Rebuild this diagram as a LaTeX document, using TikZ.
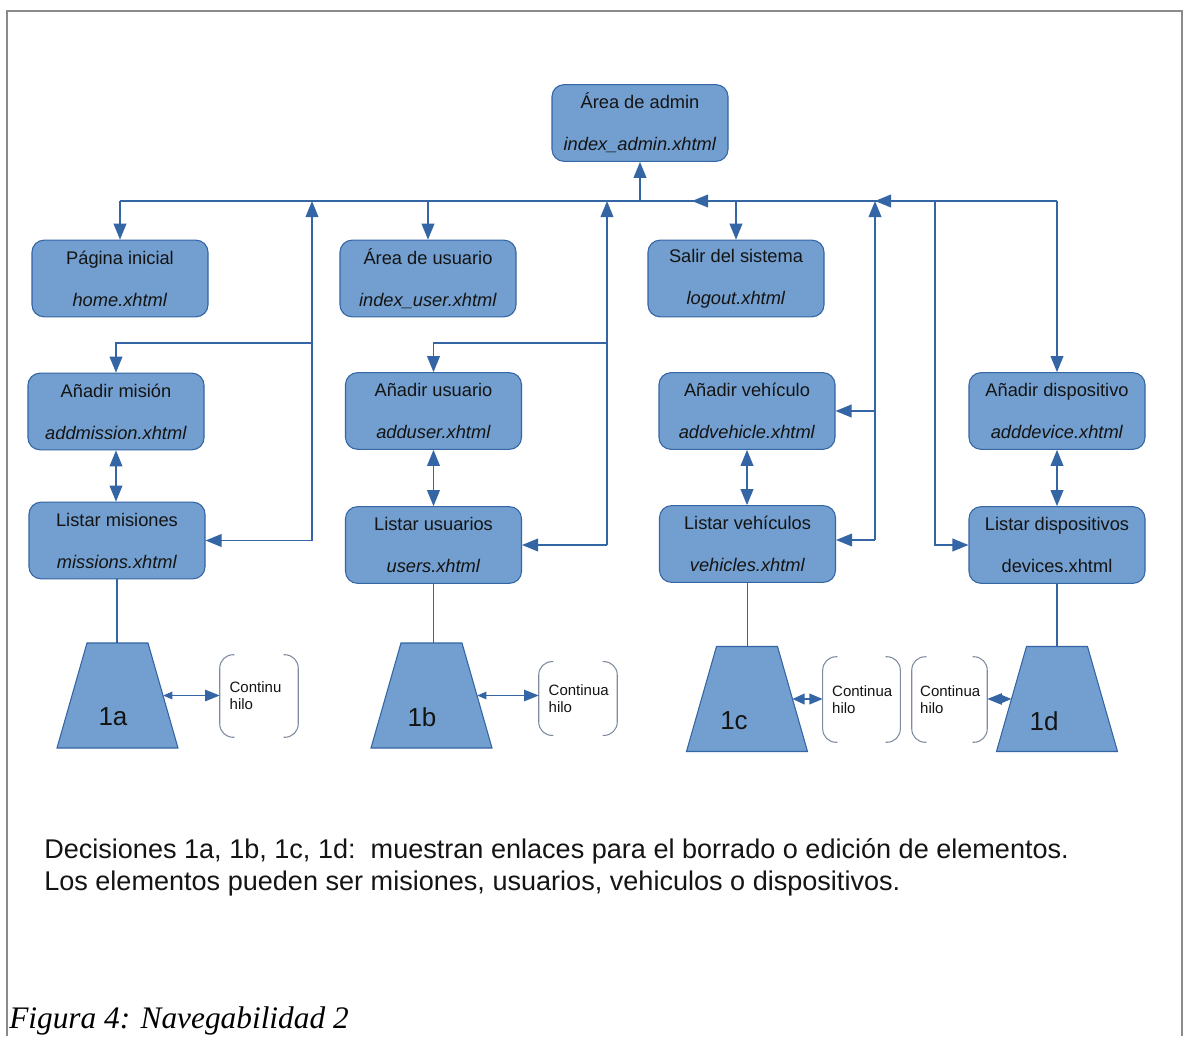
\documentclass[tikz,border=0pt]{standalone}
\usepackage{fontspec}
\setmainfont{Liberation Sans}
\newfontfamily\capfont{Liberation Serif}
\usetikzlibrary{arrows.meta,calc}

\definecolor{boxfill}{HTML}{729FCF}
\definecolor{boxline}{HTML}{3465A4}
\definecolor{wirecol}{HTML}{3465A4}
\definecolor{brkcol}{HTML}{7F8CA0}
\definecolor{ink}{HTML}{141414}
\definecolor{framecol}{HTML}{8A8A8A}

\tikzset{
  pagebox/.style={draw=boxline, fill=boxfill, rounded corners=9pt, line width=0.8pt,
    minimum width=132pt, minimum height=57.5pt, inner sep=0pt, align=center,
    font=\fontsize{13.7}{31.5}\selectfont, text=ink},
  wire/.style={draw=wirecol, line width=1.2pt},
  arr/.style={wire, -{Triangle[length=12pt,width=9.5pt]}},
  dbl/.style={wire, {Triangle[length=12pt,width=9.5pt]}-{Triangle[length=12pt,width=9.5pt]}},
  decision/.style={draw=boxline, fill=boxfill, line width=0.8pt},
  declabel/.style={font=\fontsize{19.5}{22}\selectfont, text=ink, inner sep=0pt},
  thread/.style={inner ysep=0pt, inner xsep=#1, text width=44pt, align=left,
    font=\fontsize{11.25}{12.75}\selectfont, text=ink},
  paren/.style={draw=brkcol, line width=0.8pt, rounded corners=10pt},
  link/.style={wire, {Triangle[length=7pt,width=5.5pt]}-{Triangle[length=11pt,width=8.5pt]}},
  linkc/.style={wire, {Triangle[length=9pt,width=8pt]}-{Triangle[length=10pt,width=8pt]}},
}

\begin{document}
\begin{tikzpicture}[x=0.75pt, y=-0.75pt]
  \useasboundingbox (0,0) rectangle (1186,1036);
  \fill[white] (0,0) rectangle (1186,1036);

  % outer frame
  \draw[framecol, line width=1pt] (7,1036) -- (7,11) -- (1182,11) -- (1182,1036);

  % pages
  \node[pagebox] (admin) at (640,123)   {Área de admin\\\textit{index\_admin.xhtml}};
  \node[pagebox] (home)  at (120,278.5) {Página inicial\\\textit{home.xhtml}};
  \node[pagebox] (ua)    at (428,278.5) {Área de usuario\\\textit{index\_user.xhtml}};
  \node[pagebox] (lo)    at (736,278.5) {Salir del sistema\\\textit{logout.xhtml}};
  \node[pagebox] (am)    at (116,411.5) {Añadir misión\\\textit{addmission.xhtml}};
  \node[pagebox] (lm)    at (117,540.5) {Listar misiones\\\textit{missions.xhtml}};
  \node[pagebox] (au)    at (433.5,411) {Añadir usuario\\\textit{adduser.xhtml}};
  \node[pagebox] (lu)    at (433.5,545) {Listar usuarios\\\textit{users.xhtml}};
  \node[pagebox] (av)    at (747,411)   {Añadir vehículo\\\textit{addvehicle.xhtml}};
  \node[pagebox] (lv)    at (747.5,544) {Listar vehículos\\\textit{vehicles.xhtml}};
  \node[pagebox] (ad)    at (1057,411)  {Añadir dispositivo\\\textit{adddevice.xhtml}};
  \node[pagebox] (ld)    at (1057,545)  {Listar dispositivos\\devices.xhtml};

  % bus and junction points
  \coordinate (busL) at (120,201);
  \coordinate (busR) at (1057,201);
  \coordinate (busA) at (640,201);
  \coordinate (busM) at (692,201);
  \coordinate (v1top) at (312,201);  \coordinate (v1mid) at (312,343);  \coordinate (v1bot) at (312,540.5);
  \coordinate (v2top) at (607,201);  \coordinate (v2mid) at (607,343);  \coordinate (v2bot) at (607,545);
  \coordinate (v3top) at (875,201);  \coordinate (v3mid) at (875,411);  \coordinate (v3bot) at (875,540);
  \coordinate (v4top) at (935,201);

  \draw[wire] (busL) -- (busR);
  \draw[arr] (busL) -- (home.north);
  \draw[arr] (ua.north |- busL) -- (ua.north);
  \draw[arr] (lo.north |- busL) -- (lo.north);
  \draw[arr] (busR) -- (ad.north);
  \draw[arr] (busA) -- (admin.south);
  \draw[arr] (lo.north |- busL) -- (busM);
  \draw[arr] (v4top) -- (v3top);

  % returns from the mission pages
  \draw[arr] (v1bot) -- (v1top);
  \draw[arr] (v1mid) -| (am.north);
  \draw[arr] (v1bot) -- (v1bot -| lm.east);
  % returns from the user pages
  \draw[arr] (v2bot) -- (v2top);
  \draw[arr] (v2mid) -| (au.north);
  \draw[arr] (v2bot) -- (v2bot -| lu.east);
  % returns from the vehicle pages
  \draw[arr] (v3bot) -- (v3top);
  \draw[arr] (v3mid) -- (v3mid -| av.east);
  \draw[arr] (v3bot) -- (v3bot -| lv.east);
  % device list
  \draw[arr] (v4top) |- (ld.west);

  % add <-> list
  \draw[dbl] (am.south) -- (am.south |- lm.north);
  \draw[dbl] (au.south) -- (lu.north);
  \draw[dbl] (av.south) -- (av.south |- lv.north);
  \draw[dbl] (ad.south) -- (ld.north);

  % decisions: trapezoids with their anchor points
  \foreach \n/\cx/\cy in {t1a/117.5/695.5, t1b/431.5/695.5, t1c/747/699, t1d/1057/699}{
    \draw[decision] (\cx-30.5,\cy-52.5) -- (\cx+30.5,\cy-52.5) -- (\cx+60.5,\cy+52.5)
      -- (\cx-60.5,\cy+52.5) -- cycle;
    \coordinate (\n-top) at (\cx,\cy-52.5);
    \coordinate (\n-east) at (\cx+45.5,\cy);
    \coordinate (\n-west) at (\cx-45.5,\cy);
  }
  \node[declabel] (l1a) at (113,717) {1a};
  \node[declabel] (l1b) at (422,717) {1b};
  \node[declabel] (l1c) at (734,721) {1c};
  \node[declabel] (l1d) at (1044,721) {1d};

  \draw[wire, line width=1pt] (lm.south) -- (lm.south |- t1a-top);
  \draw[wire, line width=1pt] (lu.south) -- (lu.south |- t1b-top);
  \draw[wire, line width=1pt] (lv.south) -- (lv.south |- t1c-top);
  \draw[wire, line width=1pt] (ld.south) -- (ld.south |- t1d-top);

  % thread continuation brackets
  \node[thread=7.25pt, minimum height=61.5pt] (b1a) at (259,696)
    {Continu\\hilo};
  \node[thread=7.25pt, minimum height=55pt] (b1b) at (578,698.5)
    {Continua\\hilo};
  \node[thread=6.9pt, minimum height=63.75pt] (b1c) at (861.5,699.5)
    {Continua\\hilo};
  \node[thread=6.1pt, minimum height=63.75pt] (b1d) at (949.5,699.5)
    {Continua\\hilo};

  \foreach \b in {b1a,b1b,b1c,b1d}{
    \draw[paren] ([xshift=11pt]\b.north west) -- (\b.north west) -- (\b.south west) -- ([xshift=11pt]\b.south west);
    \draw[paren] ([xshift=-11pt]\b.north east) -- (\b.north east) -- (\b.south east) -- ([xshift=-11pt]\b.south east);
  }

  \draw[link] (t1a-east) -- (t1a-east -| b1a.west);
  \draw[link] (t1b-east) -- (t1b-east -| b1b.west);
  \draw[linkc] (t1c-east) -- (t1c-east -| b1c.west);
  \draw[link] (t1d-west) -- (t1d-west -| b1d.east);

  % notes
  \node[anchor=base west, inner sep=0pt, text=ink, font=\fontsize{20.3}{24}\selectfont] (desc1) at (44,858)
    {Decisiones 1a, 1b, 1c, 1d:\ \ muestran enlaces para el borrado o edición de elementos.};
  \node[anchor=base west, inner sep=0pt, text=ink, font=\fontsize{20.3}{24}\selectfont] (desc2) at (44,890)
    {Los elementos pueden ser misiones, usuarios, vehiculos o dispositivos.};

  \node[anchor=base west, inner sep=0pt, text=black, font=\capfont\itshape\fontsize{23.5}{28}\selectfont] (caption) at (9,1028)
    {Figura 4: Navegabilidad 2};
\end{tikzpicture}
\end{document}
